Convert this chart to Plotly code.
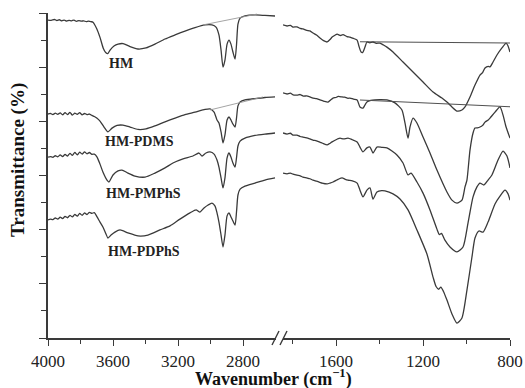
import plotly.graph_objects as go

# ---------------- spectra (wavenumber in cm-1, transmittance in arbitrary %) ----------------
# high-wavenumber window 4000-2600
HM_L_WN = [4000, 3980, 3960, 3945, 3930, 3915, 3900, 3885, 3870, 3855, 3840, 3825, 3810, 3795, 3780,
           3765, 3750, 3735, 3723, 3700, 3680, 3660, 3645, 3632, 3618, 3594, 3569, 3538, 3495, 3446,
           3397, 3342, 3280, 3218, 3157, 3095, 3034, 2991, 2966, 2948, 2935, 2923, 2911, 2898, 2886,
           2874, 2862, 2849, 2840, 2831, 2818, 2788, 2726, 2665, 2603]
HM_L_T = [117.4, 117.3, 117.6, 117.2, 117.5, 117.1, 117.4, 117.0, 117.3, 117.1, 117.4, 116.9, 117.2, 117.0, 117.1,
          116.8, 117.0, 116.8, 116.6, 114.2, 111.0, 107.0, 105.4, 105.0, 106.3, 107.8, 108.5, 108.7, 107.6, 106.7,
          107.1, 108.5, 110.4, 111.9, 113.3, 114.6, 115.6, 115.6, 114.8, 111.9, 106.3, 100.0, 102.6, 108.5, 110.0,
          108.5, 105.6, 103.0, 108.2, 115.9, 118.1, 118.9, 119.3, 119.1, 118.9]

PDMS_L_WN = [4000, 3985, 3970, 3955, 3940, 3925, 3910, 3895, 3880, 3865, 3850, 3835, 3820, 3805, 3790,
             3775, 3760, 3745, 3730, 3715, 3700, 3680, 3655, 3631, 3606, 3575, 3538, 3495, 3446, 3397,
             3342, 3280, 3218, 3157, 3095, 3034, 3003, 2978, 2960, 2948, 2935, 2923, 2911, 2898, 2886,
             2874, 2862, 2849, 2840, 2831, 2818, 2788, 2726, 2665, 2603]
PDMS_L_T = [82.7, 82.9, 82.5, 83.0, 82.6, 83.1, 82.4, 83.2, 82.5, 83.3, 82.3, 83.0, 82.6, 83.2, 82.4,
            82.9, 82.5, 82.7, 82.2, 81.8, 81.2, 80.1, 77.9, 76.1, 77.5, 78.5, 78.6, 77.9, 77.0, 77.2,
            78.3, 79.8, 81.2, 82.5, 83.4, 84.4, 84.6, 83.4, 80.5, 79.4, 76.1, 72.0, 75.0, 80.5, 81.6,
            80.5, 79.0, 77.9, 81.2, 85.7, 87.1, 87.9, 88.4, 88.8, 89.0]

PMPHS_L_WN = [4000, 3985, 3970, 3955, 3940, 3925, 3910, 3895, 3880, 3865, 3850, 3835, 3820, 3805, 3790,
              3775, 3760, 3745, 3730, 3715, 3698, 3680, 3662, 3637, 3625, 3600, 3569, 3545, 3508, 3465,
              3403, 3342, 3280, 3231, 3169, 3108, 3071, 3052, 3028, 3003, 2978, 2960, 2948, 2935, 2923,
              2911, 2898, 2886, 2874, 2862, 2849, 2840, 2831, 2818, 2788, 2726, 2665, 2603]
PMPHS_L_T = [66.8, 67.0, 66.7, 67.3, 66.9, 67.6, 67.0, 67.8, 67.2, 68.2, 67.4, 68.5, 67.6, 68.6, 67.9,
             68.7, 68.0, 68.5, 67.8, 67.9, 66.8, 64.2, 61.3, 58.3, 57.6, 60.2, 61.7, 62.0, 60.9, 59.8,
             59.4, 60.9, 62.8, 64.6, 66.1, 67.2, 68.3, 67.2, 68.3, 68.7, 67.9, 65.7, 63.1, 59.1, 55.4,
             59.1, 66.5, 68.3, 66.8, 64.6, 63.1, 66.5, 70.9, 72.7, 73.8, 74.8, 75.3, 75.7]

PDPHS_L_WN = [4000, 3985, 3970, 3955, 3940, 3925, 3910, 3895, 3880, 3865, 3850, 3835, 3820, 3805, 3790,
              3775, 3760, 3745, 3730, 3715, 3698, 3680, 3662, 3643, 3631, 3612, 3588, 3557, 3508, 3446,
              3385, 3311, 3249, 3188, 3126, 3089, 3065, 3040, 3015, 2991, 2972, 2960, 2948, 2935, 2923,
              2911, 2898, 2886, 2874, 2862, 2849, 2840, 2831, 2818, 2788, 2726, 2665, 2603]
PDPHS_L_T = [43.6, 43.9, 43.7, 44.3, 43.9, 44.6, 44.1, 44.9, 44.4, 45.3, 44.7, 45.6, 45.0, 46.0, 45.3,
             46.2, 45.6, 46.4, 46.0, 46.3, 44.7, 42.8, 41.0, 38.4, 36.9, 38.0, 39.1, 39.9, 38.8, 37.7,
             38.0, 39.9, 41.4, 43.9, 46.2, 47.3, 46.5, 48.0, 49.1, 49.8, 48.7, 46.2, 42.8, 38.0, 33.6,
             38.0, 45.1, 46.2, 44.7, 43.2, 41.7, 46.5, 52.8, 55.0, 56.1, 57.2, 58.3, 59.1]

# low-wavenumber window 1844-800
HM_R_WN = [1844, 1825, 1810, 1798, 1780, 1765, 1752, 1735, 1720, 1706, 1690, 1674, 1655, 1641, 1628,
           1618, 1605, 1595, 1580, 1568, 1550, 1536, 1520, 1503, 1495, 1485, 1478, 1467, 1458, 1445,
           1430, 1415, 1398, 1382, 1366, 1338, 1292, 1246, 1200, 1154, 1113, 1090, 1067, 1044, 1021,
           1007, 984, 961, 938, 926, 915, 900, 892, 878, 860, 837, 818, 810, 800]
HM_R_T = [115.6, 115.2, 115.4, 114.8, 114.9, 114.3, 114.1, 113.6, 113.4, 112.6, 111.9, 110.8, 109.7, 109.3, 110.2,
          111.1, 111.8, 112.2, 111.7, 112.0, 111.3, 111.1, 110.6, 110.0, 107.8, 105.6, 105.4, 107.4, 109.3, 109.0,
          109.3, 108.8, 108.9, 108.2, 107.4, 105.6, 101.9, 98.2, 94.5, 90.8, 88.6, 87.1, 85.3, 83.8, 84.2,
          85.3, 89.0, 93.4, 97.1, 98.0, 99.7, 100.3, 100.1, 101.9, 104.5, 107.1, 108.9, 108.0, 105.6]

PDMS_R_WN = [1844, 1825, 1810, 1798, 1779, 1765, 1750, 1735, 1720, 1706, 1690, 1674, 1655, 1637, 1625,
             1614, 1600, 1590, 1572, 1560, 1545, 1536, 1520, 1503, 1490, 1476, 1466, 1458, 1440, 1421,
             1400, 1366, 1329, 1297, 1283, 1269, 1260, 1246, 1228, 1200, 1168, 1136, 1090, 1067, 1044,
             1021, 1007, 998, 984, 970, 961, 950, 938, 926, 915, 900, 892, 869, 846, 832, 818, 800]
PDMS_R_T = [90.5, 90.1, 90.4, 89.8, 89.7, 89.9, 89.3, 89.4, 89.0, 88.6, 88.4, 87.9, 87.4, 87.1, 87.9,
            88.6, 88.8, 89.2, 89.0, 88.9, 88.5, 88.6, 88.2, 87.9, 85.3, 84.9, 86.2, 87.1, 87.7, 87.9,
            88.0, 87.9, 86.8, 84.2, 79.4, 73.8, 77.9, 81.2, 79.4, 74.2, 68.3, 62.0, 53.9, 50.9, 49.8,
            50.9, 55.8, 58.3, 69.4, 75.7, 77.5, 77.6, 77.9, 78.5, 79.7, 80.5, 81.2, 83.4, 85.3, 82.3, 77.9, 73.8]

PMPHS_R_WN = [1844, 1825, 1810, 1798, 1780, 1765, 1752, 1735, 1720, 1706, 1690, 1675, 1664, 1641, 1630,
              1618, 1600, 1590, 1582, 1565, 1545, 1525, 1503, 1490, 1476, 1458, 1444, 1430, 1412, 1390,
              1366, 1320, 1292, 1269, 1255, 1228, 1200, 1168, 1136, 1125, 1115, 1100, 1076, 1044, 1016,
              993, 970, 952, 938, 920, 901, 883, 855, 832, 814, 800]
PMPHS_R_T = [75.7, 75.3, 75.6, 74.9, 74.9, 74.4, 74.2, 73.9, 73.5, 73.1, 72.8, 72.3, 72.0, 71.3, 71.8,
             72.4, 73.2, 73.6, 73.8, 73.5, 73.8, 73.2, 72.4, 70.5, 68.7, 70.2, 70.5, 68.3, 70.5, 70.4,
             70.2, 67.6, 64.6, 60.2, 60.9, 57.6, 53.5, 47.3, 40.2, 38.2, 38.6, 36.2, 33.6, 31.8, 33.6,
             42.5, 52.1, 55.8, 57.2, 56.5, 58.3, 60.2, 65.7, 69.0, 67.2, 62.8]

PDPHS_R_WN = [1844, 1825, 1810, 1798, 1780, 1765, 1752, 1735, 1720, 1706, 1690, 1675, 1664, 1641, 1628,
              1614, 1600, 1590, 1572, 1560, 1545, 1525, 1503, 1490, 1476, 1458, 1444, 1430, 1412, 1390,
              1375, 1338, 1306, 1269, 1228, 1182, 1154, 1140, 1128, 1118, 1106, 1090, 1067, 1044, 1021,
              998, 975, 961, 943, 924, 901, 869, 846, 823, 809, 800]
PDPHS_R_T = [60.9, 60.6, 60.9, 60.5, 60.1, 59.9, 59.4, 59.1, 58.8, 58.3, 57.9, 57.5, 57.2, 56.9, 57.2,
             57.6, 58.2, 58.6, 59.1, 58.7, 58.3, 58.0, 57.2, 54.6, 52.1, 54.6, 55.4, 51.3, 53.9, 54.4,
             54.3, 53.2, 51.3, 47.3, 39.9, 31.0, 22.5, 19.0, 18.0, 18.8, 17.2, 14.0, 8.9, 5.5, 7.4,
             17.7, 29.9, 36.9, 39.5, 39.1, 42.8, 49.5, 52.4, 54.6, 53.2, 50.9]

# tangent baselines
HM_BASE_L_WN, HM_BASE_L_T = [3046, 2714], [115.6, 119.6]
PDMS_BASE_L_WN, PDMS_BASE_L_T = [3003, 2677], [84.2, 89.0]
HM_BASE_R_WN, HM_BASE_R_T = [1490, 800], [109.4, 108.9]
PDMS_BASE_R_WN, PDMS_BASE_R_T = [1490, 800], [87.9, 85.4]

SAMPLE_NAMES = ["HM", "HM-PDMS", "HM-PMPhS", "HM-PDPhS"]
LABEL_WN = [3551, 3440, 3415, 3409]
LABEL_T = [101.2, 72.4, 53.5, 31.8]

LEFT_TICKS = [4000, 3600, 3200, 2800]
LEFT_MINOR = [3800, 3400, 3000]
RIGHT_TICKS = [1600, 1200, 800]
RIGHT_MINOR = [1800, 1400, 1000]

# ---------------- figure ----------------
LINE = "#3a3a3a"
AXIS = "#3a3a3a"
SERIF = "Liberation Serif, Times New Roman, serif"

fig = go.Figure()

spectra = [
    (HM_L_WN, HM_L_T, "x"), (PDMS_L_WN, PDMS_L_T, "x"),
    (PMPHS_L_WN, PMPHS_L_T, "x"), (PDPHS_L_WN, PDPHS_L_T, "x"),
    (HM_R_WN, HM_R_T, "x2"), (PDMS_R_WN, PDMS_R_T, "x2"),
    (PMPHS_R_WN, PMPHS_R_T, "x2"), (PDPHS_R_WN, PDPHS_R_T, "x2"),
]
for wn, t, xa in spectra:
    assert len(wn) == len(t)
    fig.add_trace(go.Scatter(x=wn, y=t, xaxis=xa, yaxis="y", mode="lines",
                             line=dict(color=LINE, width=1.3, shape="spline", smoothing=0.6),
                             showlegend=False, hoverinfo="skip"))

for wn, t in [(HM_BASE_L_WN, HM_BASE_L_T), (PDMS_BASE_L_WN, PDMS_BASE_L_T)]:
    fig.add_trace(go.Scatter(x=wn, y=t, xaxis="x", yaxis="y", mode="lines",
                             line=dict(color="#9a9a9a", width=0.9),
                             showlegend=False, hoverinfo="skip"))
for wn, t in [(HM_BASE_R_WN, HM_BASE_R_T), (PDMS_BASE_R_WN, PDMS_BASE_R_T)]:
    fig.add_trace(go.Scatter(x=wn, y=t, xaxis="x2", yaxis="y", mode="lines",
                             line=dict(color="#505050", width=1.1),
                             showlegend=False, hoverinfo="skip"))

W, H = 525, 388
ML, MR, MT, MB = 48, 15, 13, 50
PW, PH = W - ML - MR, H - MT - MB


def px(x):
    return (x - ML) / PW


def py(y):
    return (H - MB - y) / PH


common_x = dict(showgrid=False, zeroline=False, showline=True, linecolor=AXIS, linewidth=1.5,
                ticks="outside", ticklen=6, tickwidth=1.3, tickcolor=AXIS,
                tickfont=dict(family=SERIF, size=17, color="#222"), ticklabelstandoff=1,
                autorange=False, automargin=False)

fig.update_layout(
    width=W, height=H,
    margin=dict(l=ML, r=MR, t=MT, b=MB, autoexpand=False),
    paper_bgcolor="white", plot_bgcolor="white",
    xaxis=dict(domain=[0, px(275.5)], range=[4000, 2600], anchor="y",
               tickvals=LEFT_TICKS,
               minor=dict(tickvals=LEFT_MINOR, ticks="outside", ticklen=4, tickwidth=1.2, tickcolor=AXIS),
               **common_x),
    xaxis2=dict(domain=[px(283), 1], range=[1844, 800], anchor="y",
                tickvals=RIGHT_TICKS,
                minor=dict(tickvals=RIGHT_MINOR, ticks="outside", ticklen=4, tickwidth=1.2, tickcolor=AXIS),
                **common_x),
    yaxis=dict(range=[0, 120], domain=[0, 1], showgrid=False, zeroline=False, showline=True,
               linecolor=AXIS, linewidth=1.5, ticks="outside", ticklen=7, tickwidth=1.3, tickcolor=AXIS,
               tickvals=[0, 20, 40, 60, 80, 100, 120], showticklabels=False,
               minor=dict(tickvals=[10, 30, 50, 70, 90, 110], ticks="outside", ticklen=5,
                          tickwidth=1.2, tickcolor=AXIS),
               autorange=False, automargin=False),
    showlegend=False,
)

# sample labels
for name, lx, ly in zip(SAMPLE_NAMES, LABEL_WN, LABEL_T):
    fig.add_annotation(x=lx, y=ly, xref="x", yref="y", text=f"<b>{name}</b>", showarrow=False,
                       font=dict(family=SERIF, size=14, color="#222"), xanchor="center", yanchor="middle")

# axis titles
fig.add_annotation(x=px(273), y=py(377.5), xref="paper", yref="paper",
                   text="<b>Wavenumber (cm<sup>\u22121</sup>)</b>", showarrow=False,
                   font=dict(family=SERIF, size=18, color="#111"), xanchor="center", yanchor="middle")
fig.add_annotation(x=px(18), y=py(160), xref="paper", yref="paper",
                   text="<b>Transmittance (%)</b>", showarrow=False, textangle=-90,
                   font=dict(family=SERIF, size=19, color="#111"), xanchor="center", yanchor="middle")

# axis-break marks
for x0 in (272, 280):
    fig.add_shape(type="line", xref="paper", yref="paper",
                  x0=px(x0), y0=py(345), x1=px(x0 + 7), y1=py(331),
                  line=dict(color=AXIS, width=1.4))

fig.write_html("out.html")
